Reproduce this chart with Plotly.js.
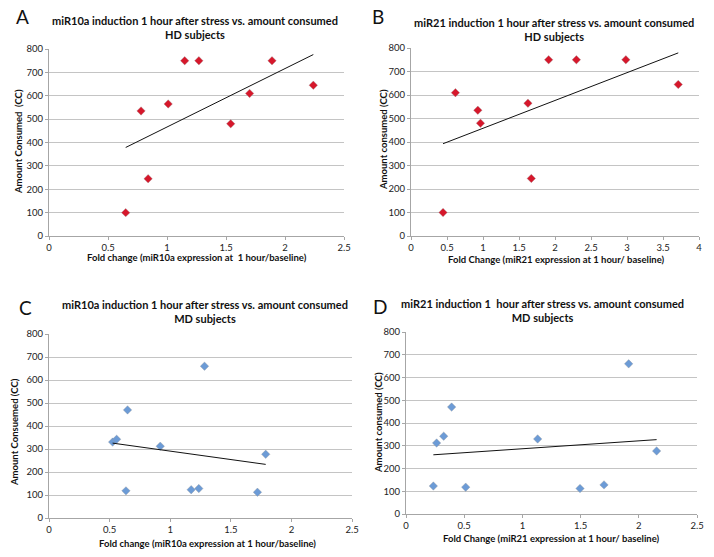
<!DOCTYPE html>
<html>
<head>
<meta charset="utf-8">
<script src="https://cdn.plot.ly/plotly-3.0.1.min.js"></script>
<style>html,body{margin:0;padding:0;background:#fff;}#chart{width:714px;height:557px;}</style>
</head>
<body>
<div id="chart"></div>
<script>
// Panel A: miR10a, HD subjects
const xA = [0.65, 0.78, 0.84, 1.01, 1.15, 1.27, 1.54, 1.70, 1.89, 2.24];
const yA = [100, 535, 245, 565, 750, 750, 480, 610, 750, 645];
// Panel B: miR21, HD subjects
const xB = [0.445, 0.617, 0.928, 0.965, 1.624, 1.671, 1.912, 2.297, 2.984, 3.712];
const yB = [100, 610, 535, 480, 565, 245, 750, 750, 750, 645];
// Panel C: miR10a, MD subjects
const xC = [0.525, 0.558, 0.648, 0.635, 0.918, 1.173, 1.236, 1.283, 1.72, 1.788];
const yC = [330, 342, 470, 118, 312, 123, 128, 660, 112, 277];
// Panel D: miR21, MD subjects
const xD = [0.235, 0.263, 0.324, 0.392, 0.513, 1.131, 1.495, 1.701, 1.913, 2.153];
const yD = [123, 312, 342, 470, 118, 330, 112, 128, 660, 277];

const yTicks = [0, 100, 200, 300, 400, 500, 600, 700, 800];
const xTicks25 = [0, 0.5, 1, 1.5, 2, 2.5];
const xTicks4 = [0, 0.5, 1, 1.5, 2, 2.5, 3, 3.5, 4];

const titles = [
  "miR10a induction 1 hour after stress vs. amount consumed<br>HD subjects",
  "miR21 induction 1 hour after stress vs. amount consumed<br>HD subjects",
  "miR10a induction 1 hour after stress vs. amount consumed<br>MD subjects",
  "miR21 induction 1  hour after stress vs. amount consumed<br>MD subjects"
];
const xTitles = [
  "Fold change (miR10a expression at  1 hour/baseline)",
  "Fold Change (miR21 expression at 1 hour/ baseline)",
  "Fold change (miR10a expression at 1 hour/baseline)",
  "Fold Change (miR21 expression at 1 hour/ baseline)"
];
const yTitles = [
  "Amount Consumed  (CC)",
  "Amount consumed (CC)",
  "Amount Consuemed (CC)",
  "Amount consumed (CC)"
];
const letters = ["A", "B", "C", "D"];

// least-squares linear trendline (as in the spreadsheet's trendline)
function fit(x, y) {
  const n = x.length;
  const mx = x.reduce((a, b) => a + b, 0) / n;
  const my = y.reduce((a, b) => a + b, 0) / n;
  let sxy = 0, sxx = 0;
  for (let i = 0; i < n; i++) { sxy += (x[i] - mx) * (y[i] - my); sxx += (x[i] - mx) ** 2; }
  const b = sxy / sxx, a = my - b * mx;
  const x0 = Math.min(...x), x1 = Math.max(...x);
  return { x: [x0, x1], y: [a + b * x0, a + b * x1] };
}

const W = 714, H = 557;
const px = v => v / W;
const py = v => 1 - v / H;

const RED = '#d6172b', BLUE = '#6c9bd6';
const panels = [
  { x: xA, y: yA, c: RED, ax: '', xr: [0, 2.5], xt: xTicks25, dom: [[49, 344], [49, 236]] },
  { x: xB, y: yB, c: RED, ax: '2', xr: [0, 4], xt: xTicks4, dom: [[411, 699], [48, 236]] },
  { x: xC, y: yC, c: BLUE, ax: '3', xr: [0, 2.5], xt: xTicks25, dom: [[49, 352], [334, 518]] },
  { x: xD, y: yD, c: BLUE, ax: '4', xr: [0, 2.5], xt: xTicks25, dom: [[406, 697], [332, 514]] }
];

const FONT = 'Lato, "Open Sans", sans-serif';
const data = [];
const layout = {
  width: W, height: H,
  margin: { l: 0, r: 0, t: 0, b: 0 },
  paper_bgcolor: '#fff', plot_bgcolor: '#fff',
  showlegend: false,
  font: { family: FONT, color: '#222' },
  annotations: []
};

panels.forEach((p, i) => {
  const xa = 'x' + p.ax, ya = 'y' + p.ax;
  data.push({
    type: 'scatter', mode: 'markers', x: p.x, y: p.y, xaxis: xa, yaxis: ya,
    marker: { symbol: 'diamond', size: 6.5, color: p.c, line: { color: 'rgba(150,150,150,0.6)', width: 0.6 } },
    hoverinfo: 'x+y'
  });
  const t = fit(p.x, p.y);
  data.push({
    type: 'scatter', mode: 'lines', x: t.x, y: t.y, xaxis: xa, yaxis: ya,
    line: { color: '#111', width: 1 }, hoverinfo: 'skip'
  });
  const axBase = {
    showline: true, linecolor: '#a6a6a6', linewidth: 1,
    ticks: 'outside', ticklen: 3, tickcolor: '#a6a6a6',
    zeroline: false, fixedrange: true,
    tickfont: { family: FONT, size: 9.5, color: '#222' }
  };
  layout['xaxis' + p.ax] = Object.assign({}, axBase, {
    domain: [px(p.dom[0][0]), px(p.dom[0][1])],
    range: p.xr, tickvals: p.xt, ticktext: p.xt.map(String),
    showgrid: false, anchor: ya
  });
  layout['yaxis' + p.ax] = Object.assign({}, axBase, {
    domain: [py(p.dom[1][1]), py(p.dom[1][0])],
    range: [0, 800], tickvals: yTicks, ticktext: yTicks.map(String),
    showgrid: true, gridcolor: '#c4c4c4', gridwidth: 1, anchor: xa
  });
});

// titles, letters, axis titles
const titlePos = [[195, 27], [554, 30], [205, 311], [542, 310]];
const letterPos = [[23, 17], [378, 17], [25, 307], [380, 306]];
const xtPos = [[197, 257], [556, 259], [207, 543], [551, 538]];
const ytPos = [[18, 142], [383, 140], [15, 432], [378, 423]];
for (let i = 0; i < 4; i++) {
  layout.annotations.push({
    xref: 'paper', yref: 'paper', x: px(titlePos[i][0]), y: py(titlePos[i][1]),
    xanchor: 'center', yanchor: 'middle', showarrow: false, text: '<b>' + titles[i].replace('<br>', '</b><br><b>') + '</b>',
    font: { family: FONT, size: 11, color: '#111' }
  });
  layout.annotations.push({
    xref: 'paper', yref: 'paper', x: px(letterPos[i][0]), y: py(letterPos[i][1]),
    xanchor: 'center', yanchor: 'middle', showarrow: false, text: letters[i],
    font: { family: FONT, size: 19, color: '#111' }
  });
  layout.annotations.push({
    xref: 'paper', yref: 'paper', x: px(xtPos[i][0]), y: py(xtPos[i][1]),
    xanchor: 'center', yanchor: 'middle', showarrow: false, text: '<b>' + xTitles[i] + '</b>',
    font: { family: FONT, size: 9.5, color: '#111' }
  });
  layout.annotations.push({
    xref: 'paper', yref: 'paper', x: px(ytPos[i][0]), y: py(ytPos[i][1]),
    xanchor: 'center', yanchor: 'middle', showarrow: false, textangle: -90, text: '<b>' + yTitles[i] + '</b>',
    font: { family: FONT, size: 9.5, color: '#111' }
  });
}

Plotly.newPlot('chart', data, layout, { displayModeBar: false, staticPlot: true });
</script>
</body>
</html>
